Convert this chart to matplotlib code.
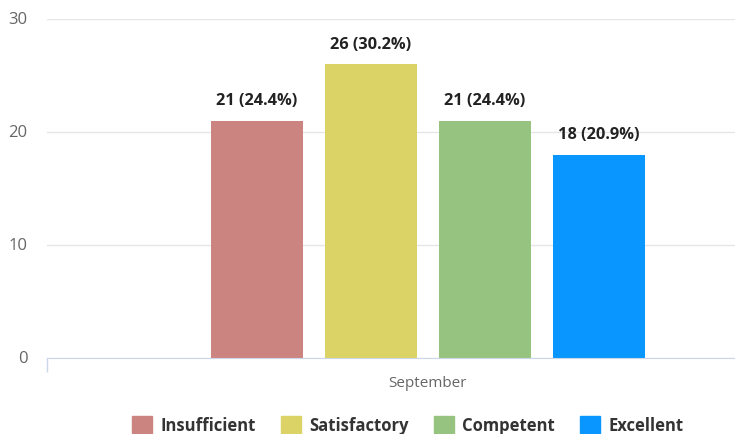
import matplotlib.pyplot as plt
import matplotlib.transforms as mtransforms
from matplotlib.patches import Rectangle

plt.rcParams['font.family'] = ['Open Sans', 'DejaVu Sans']

# data
category = 'September'
series = ['Insufficient', 'Satisfactory', 'Competent', 'Excellent']
counts = [21, 26, 21, 18]
percents = [24.4, 30.2, 24.4, 20.9]
colors = ['#CC8480', '#DBD365', '#96C37F', '#0A96FF']

fig = plt.figure(figsize=(7.35, 4.35), dpi=100)
ax = fig.add_axes([47 / 735, 76 / 435, 688 / 735, 339 / 435])

# grouped columns around the single category
step = 0.1495
width = 0.121
offsets = [(i - 1.5) * step for i in range(len(series))]
for off, val, pct, col in zip(offsets, counts, percents, colors):
    ax.bar(off, val, width=width, color=col, zorder=2)
    ax.annotate(f'{val} ({pct}%)', (off, val), xytext=(0, 9),
                textcoords='offset points', ha='center', va='bottom',
                fontsize=11.8, fontweight='bold', color='#222222')

ax.set_xlim(-0.5, 0.403)
ax.set_ylim(0, 30)
ax.set_yticks([0, 10, 20, 30])
ax.grid(axis='y', color='#E6E6E6', linewidth=1, zorder=0)
ax.set_xticks([0])
ax.set_xticklabels([category])
ax.set_xticks([-0.5], minor=True)

for side in ['top', 'right', 'left']:
    ax.spines[side].set_visible(False)
ax.spines['bottom'].set_color('#CCD6EB')
ax.tick_params(axis='x', which='major', length=0, pad=12, labelsize=11, labelcolor='#666666')
ax.tick_params(axis='x', which='minor', length=10, color='#CCD6EB', width=1)
ax.tick_params(axis='y', length=0, pad=14, labelsize=12, labelcolor='#666666')
# nudge y labels slightly above their gridlines
shift = mtransforms.ScaledTranslation(0, 1.2 / 72, fig.dpi_scale_trans)
for lbl in ax.get_yticklabels():
    lbl.set_transform(lbl.get_transform() + shift)

handles = [Rectangle((0, 0), 1, 1, color=c) for c in colors]
leg = fig.legend(handles, series, loc='lower center', bbox_to_anchor=(408 / 735, -0.035),
                 ncol=4, frameon=False, handlelength=1.2, handleheight=1.2,
                 columnspacing=1.5, handletextpad=0.5,
                 prop={'weight': 'bold', 'size': 12})
for t in leg.get_texts():
    t.set_color('#333333')

fig.savefig('out.png', dpi=100)
